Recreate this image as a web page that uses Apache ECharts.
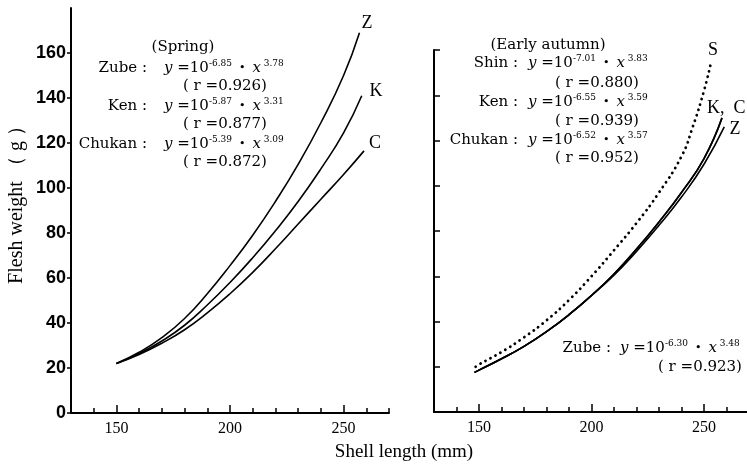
<!DOCTYPE html>
<html><head><meta charset="utf-8">
<script src="https://cdn.jsdelivr.net/npm/echarts@6/dist/echarts.min.js"></script>
<style>html,body{margin:0;padding:0;background:#fff}#c{width:747px;height:464px}</style>
</head><body><div id="c"></div>
<script>
// ---------- data ----------
// Spring panel
const springZubeX   = [150,160,170,180,190,200,210,220,230,240,250,257];
const springZube    = [22,27,33.5,42,53,65.5,79,94,110.5,129,150,169];
const springKenX    = [150,160,170,180,190,200,210,220,230,240,250,258];
const springKen     = [22,26.5,32,39,48,58,69,81,94,108.5,124.5,141];
const springChukanX = [150,160,170,180,190,200,210,220,230,240,250,259];
const springChukan  = [22,26,31,37,44.5,53,62.5,73,84,95,106,116.5];
// Early autumn panel
const autumnShinX   = [148.5,150,160,170,180,190,200,210,220,230,240,245,250,253];
const autumnShin    = [20,21,26.5,33,40.5,49.5,60,71.5,83.5,97,113,126,142,154];
const autumnKenX    = [148,150,160,170,180,190,200,210,220,230,240,250,258];
const autumnKen     = [17.5,18.5,23.5,29,35.5,43,51.5,61,72,84,97,112,130];
const autumnChukanX = [148,150,160,170,180,190,200,210,220,230,240,250,258];
const autumnChukan  = [17.5,18.5,23.5,29,35.5,43,51.5,61,72,84,97,112,130];
const autumnZubeX   = [148,150,160,170,180,190,200,210,220,230,240,250,259];
const autumnZube    = [17.5,18.5,23.5,29,35.5,43,51.5,60.5,71,82.5,95,109.5,126];
// ticks
const xTickValuesLeft  = [140,150,160,170,180,190,200,210,220,230,240,250,260,270];
const xTickValuesRight = [140,150,160,170,180,190,200,210,220,230,240,250,260];
const xTickLabels = [150,200,250];
const yTickLabels = [0,20,40,60,80,100,120,140,160];
// annotation texts
const springTitle  = '(Spring)';
const springLabels = ['Zube :','Ken :','Chukan :'];
const springCoef   = ['-6.85','-5.87','-5.39'];
const springExp    = ['3.78','3.31','3.09'];
const springR      = ['0.926','0.877','0.872'];
const autumnTitle  = '(Early autumn)';
const autumnLabels = ['Shin :','Ken :','Chukan :','Zube :'];
const autumnCoef   = ['-7.01','-6.55','-6.52','-6.30'];
const autumnExp    = ['3.83','3.59','3.57','3.48'];
const autumnR      = ['0.880','0.939','0.952','0.923'];
const springEndLabels = ['Z','K','C'];
const autumnEndLabels = ['S','K,  C','Z'];
const xName = 'Shell length (mm)';
const yName = 'Flesh weight （ g ）';

// ---------- chart ----------
const chart = echarts.init(document.getElementById('c'));
const pairs = (xs, ys) => xs.map((x, i) => [x, ys[i]]);
const SERIF = 'DejaVu Serif';
const black = '#000';

function lineSeries(name, xs, ys, idx, dotted) {
  return {
    name, type: 'line', xAxisIndex: idx, yAxisIndex: idx,
    data: pairs(xs, ys), showSymbol: false, smooth: 0.5,
    lineStyle: dotted
      ? { color: black, width: 2.8, type: [0.1, 5.6], cap: 'round' }
      : { color: black, width: 1.6 },
    silent: true
  };
}

const eqRich = {
  n: { fontFamily: SERIF, fontSize: 15, lineHeight: 18, fill: black },
  i: { fontFamily: SERIF, fontSize: 15, fontStyle: 'italic', lineHeight: 18, fill: black },
  d: { fontFamily: SERIF, fontSize: 11, lineHeight: 18, fill: black },
  s: { fontFamily: SERIF, fontSize: 9, lineHeight: 9, verticalAlign: 'top', fill: black }
};
function eqText(coef, exp) {
  return '{i|y}{n| =10}{s|' + coef + '}{d|  •  }{i|x}{s| ' + exp + '}';
}
function txt(text, x, y, opts) {
  return Object.assign({
    type: 'text', silent: true,
    style: Object.assign({ text, x, y, fill: black, fontFamily: SERIF, fontSize: 15,
      align: 'left', verticalAlign: 'middle' }, (opts && opts.style) || {})
  }, (opts && opts.el) || {});
}

const graphic = [];
// spring annotations
graphic.push(txt(springTitle, 183, 47, { style: { align: 'center' } }));
const spEqY = [68, 106, 144], spRY = [86, 124, 162];
springLabels.forEach((l, k) => {
  graphic.push(txt(l, 147, spEqY[k], { style: { align: 'right' } }));
  graphic.push(txt(eqText(springCoef[k], springExp[k]), 164, spEqY[k], { style: { rich: eqRich } }));
  graphic.push(txt('( r =' + springR[k] + ')', 183, spRY[k]));
});
// autumn annotations
graphic.push(txt(autumnTitle, 548, 45, { style: { align: 'center' } }));
const auLabX = [518, 518, 518, 611], auEqX = [528, 528, 528, 620], auRX = [555, 555, 555, 658];
const auEqY = [63, 102, 140, 348], auRY = [83, 121, 158, 367];
autumnLabels.forEach((l, k) => {
  graphic.push(txt(l, auLabX[k], auEqY[k], { style: { align: 'right' } }));
  graphic.push(txt(eqText(autumnCoef[k], autumnExp[k]), auEqX[k], auEqY[k], { style: { rich: eqRich } }));
  graphic.push(txt('( r =' + autumnR[k] + ')', auRX[k], auRY[k]));
});
// curve end labels
const spEndPos = [[367, 23], [376, 91], [375, 143]];
springEndLabels.forEach((l, k) => graphic.push(txt(l, spEndPos[k][0], spEndPos[k][1],
  { style: { align: 'center', fontFamily: 'Liberation Serif', fontSize: 18 } })));
const auEndPos = [[713, 50], [707, 108], [735, 129]];
autumnEndLabels.forEach((l, k) => graphic.push(txt(l, auEndPos[k][0], auEndPos[k][1],
  { style: { align: k === 1 ? 'left' : 'center', fontFamily: 'Liberation Serif', fontSize: 18 } })));
// axis names
graphic.push(txt(xName, 404, 452, { style: { align: 'center', fontFamily: 'Liberation Serif', fontSize: 19 } }));
graphic.push(txt(yName, 0, 0, { style: { align: 'center', fontFamily: 'Liberation Serif', fontSize: 20 },
  el: { rotation: Math.PI / 2, x: 17, y: 200 } }));

const axisLineStyle = { lineStyle: { color: black, width: 2 } };
const tickStyle = { color: black, width: 1.5 };

// helper axes carrying the taller major ticks (placed on the bottom line, ticks pointing up)
function majorTickAxis(gridIndex, max, offset) {
  return { gridIndex, type: 'value', min: 130, max, position: 'top', offset,
    axisLine: { show: false },
    axisTick: { show: true, inside: false, length: 8, lineStyle: tickStyle, customValues: xTickLabels },
    axisLabel: { show: false }, splitLine: { show: false } };
}

const option = {
  animation: false,
  backgroundColor: '#fff',
  grid: [
    { left: 71, top: 8, width: 318, height: 405 },
    { left: 434, top: 50, width: 312.75, height: 362 }
  ],
  xAxis: [
    { gridIndex: 0, type: 'value', min: 130, max: 270, interval: 10, position: 'bottom',
      axisLine: axisLineStyle,
      axisTick: { inside: true, length: 5, lineStyle: tickStyle, customValues: xTickValuesLeft },
      axisLabel: { customValues: xTickLabels, color: black, fontFamily: 'Liberation Serif', fontSize: 16, margin: 8 },
      splitLine: { show: false } },
    { gridIndex: 1, type: 'value', min: 130, max: 269, position: 'bottom',
      axisLine: axisLineStyle,
      axisTick: { inside: true, length: 5, lineStyle: tickStyle, customValues: xTickValuesRight },
      axisLabel: { customValues: xTickLabels, color: black, fontFamily: 'Liberation Serif', fontSize: 16, margin: 8 },
      splitLine: { show: false } },
    majorTickAxis(0, 270, -405),
    majorTickAxis(1, 269, -362)
  ],
  yAxis: [
    { gridIndex: 0, type: 'value', min: 0, max: 180, interval: 20,
      axisLine: { show: true, lineStyle: { color: black, width: 2 } },
      axisTick: { show: true, inside: false, length: 4, lineStyle: tickStyle, customValues: yTickLabels },
      axisLabel: { customValues: yTickLabels, color: black, fontFamily: 'Liberation Sans', fontWeight: 'bold', fontSize: 18, margin: 5 },
      splitLine: { show: false } },
    { gridIndex: 1, type: 'value', min: 0, max: 160, interval: 20,
      axisLine: { show: true, lineStyle: { color: black, width: 2 } },
      axisTick: { show: true, inside: true, length: 6, lineStyle: tickStyle },
      axisLabel: { show: false },
      splitLine: { show: false } }
  ],
  series: [
    lineSeries('Spring Zube', springZubeX, springZube, 0),
    lineSeries('Spring Ken', springKenX, springKen, 0),
    lineSeries('Spring Chukan', springChukanX, springChukan, 0),
    lineSeries('Autumn Shin', autumnShinX, autumnShin, 1, true),
    lineSeries('Autumn Ken', autumnKenX, autumnKen, 1),
    lineSeries('Autumn Chukan', autumnChukanX, autumnChukan, 1),
    lineSeries('Autumn Zube', autumnZubeX, autumnZube, 1)
  ],
  graphic: graphic
};
chart.setOption(option);
</script>
</body></html>
